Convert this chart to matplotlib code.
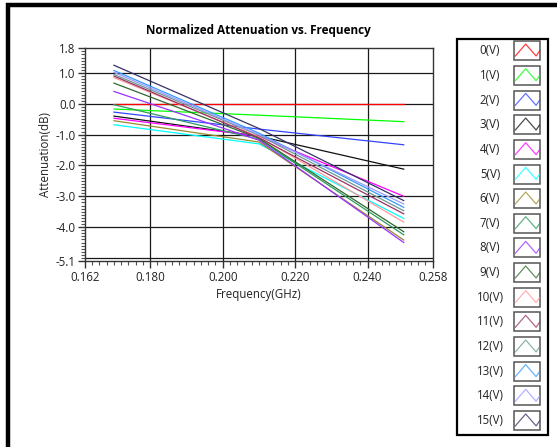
import matplotlib
matplotlib.use("Agg")
import matplotlib.pyplot as plt
from matplotlib.ticker import FixedLocator, MultipleLocator
from matplotlib.patches import Rectangle

plt.rcParams["font.family"] = ["Open Sans", "DejaVu Sans"]

# Frequency sample points (GHz)
freq = [0.170, 0.210, 0.250]

# Normalized attenuation (dB) per control voltage
att_0v = [0.00, 0.00, 0.00]
att_1v = [-0.17, -0.37, -0.58]
att_2v = [-0.27, -0.82, -1.33]
att_3v = [-0.40, -1.05, -2.12]
att_4v = [-0.47, -1.05, -3.00]
att_5v = [-0.68, -1.30, -3.72]
att_6v = [-0.55, -1.24, -4.42]
att_7v = [-0.03, -1.15, -4.25]
att_8v = [0.40, -1.18, -4.50]
att_9v = [0.67, -1.12, -4.15]
att_10v = [0.85, -1.07, -3.84]
att_11v = [0.90, -1.10, -3.57]
att_12v = [0.95, -1.02, -3.47]
att_13v = [1.08, -0.95, -3.36]
att_14v = [1.02, -1.00, -3.25]
att_15v = [1.25, -0.80, -3.14]

series = [att_0v, att_1v, att_2v, att_3v, att_4v, att_5v, att_6v, att_7v,
          att_8v, att_9v, att_10v, att_11v, att_12v, att_13v, att_14v, att_15v]
labels = [f"{v}(V)" for v in range(16)]
colors = ["#ff0000", "#00ff00", "#3344ff", "#111111", "#ff00ff", "#00ffff",
          "#9a8a30", "#2e9a60", "#9933ff", "#2f6a2f", "#ff9999", "#993366",
          "#6a9a90", "#3399ff", "#9999ff", "#333366"]

yticks = [1.8, 1.0, 0.0, -1.0, -2.0, -3.0, -4.0, -5.1]
ytick_labels = ["1.8", "1.0", "0.0", "-1.0", "-2.0", "-3.0", "-4.0", "-5.1"]
xticks = [0.162, 0.180, 0.200, 0.220, 0.240, 0.258]
xtick_labels = ["0.162", "0.180", "0.200", "0.220", "0.240", "0.258"]
ygrid = [1.0, 0.0, -1.0, -2.0, -3.0, -4.0, -5.0]
xgrid = [0.180, 0.200, 0.220, 0.240]

W, H = 557, 447
fig = plt.figure(figsize=(W / 100, H / 100), dpi=100)
fig.patch.set_facecolor("white")

# Background layer in pixel coordinates: frame and legend
bg = fig.add_axes([0, 0, 1, 1], zorder=0)
bg.set_xlim(0, W)
bg.set_ylim(H, 0)
bg.axis("off")
bg.plot([8, 8], [3, H], color="black", lw=3.2, solid_capstyle="butt")
bg.plot([6, W], [5, 5], color="black", lw=3.2, solid_capstyle="butt")

# Legend box
lx0, lx1, ly0, ly1 = 457, 548, 39, 435
bg.add_patch(Rectangle((lx0, ly0), lx1 - lx0, ly1 - ly0, fill=False,
                       edgecolor="black", lw=1.6))
row0, pitch = 50.7, 24.66
for i, (lab, col) in enumerate(zip(labels, colors)):
    yc = row0 + pitch * i
    bg.text(490, yc, lab, ha="center", va="center", fontsize=8.3, color="#222222")
    bx, bw, bh = 514, 26, 19
    by = yc - bh / 2
    bg.add_patch(Rectangle((bx, by), bw, bh, facecolor="white",
                           edgecolor="#555555", lw=1.1))
    zx = [bx + 0.05 * bw, bx + 0.45 * bw, bx + 0.85 * bw, bx + 0.98 * bw]
    zy = [by + 0.78 * bh, by + 0.15 * bh, by + 0.78 * bh, by + 0.52 * bh]
    bg.plot(zx, zy, color=col, lw=0.9, alpha=0.75)

# Main plot
ax = fig.add_axes([85 / W, 1 - 261 / H, (432.7 - 85) / W, (261 - 48.3) / H], zorder=2)
ax.set_xlim(0.162, 0.258)
ax.set_ylim(-5.1, 1.8)

for v in ygrid:
    ax.axhline(v, color="#1a1a1a", lw=0.9, zorder=1)
for f in xgrid:
    ax.axvline(f, color="#1a1a1a", lw=0.9, zorder=1)

for vals, col in zip(series, colors):
    ax.plot(freq, vals, color=col, lw=0.9, zorder=3)

ax.yaxis.set_major_locator(FixedLocator(yticks))
ax.set_yticklabels(ytick_labels)
ax.yaxis.set_minor_locator(MultipleLocator(0.1))
ax.xaxis.set_major_locator(FixedLocator(xticks))
ax.set_xticklabels(xtick_labels)
ax.xaxis.set_minor_locator(MultipleLocator(0.002))
ax.tick_params(axis="both", which="major", length=5, width=1.0,
               color="#333333", labelsize=8.3, labelcolor="#222222", pad=2)
ax.tick_params(axis="both", which="minor", length=3, width=0.8, color="#555555")
for s in ax.spines.values():
    s.set_color("#333333")
    s.set_linewidth(1.0)

ax.set_xlabel("Frequency(GHz)", fontsize=8.3, color="#222222", labelpad=3)
ax.set_ylabel("Attenuation(dB)", fontsize=8.3, color="#222222", labelpad=2)
ax.set_title("Normalized Attenuation vs. Frequency", fontsize=8.5,
             fontweight="bold", color="black", pad=10)

fig.savefig("out.png", dpi=100, facecolor="white")
